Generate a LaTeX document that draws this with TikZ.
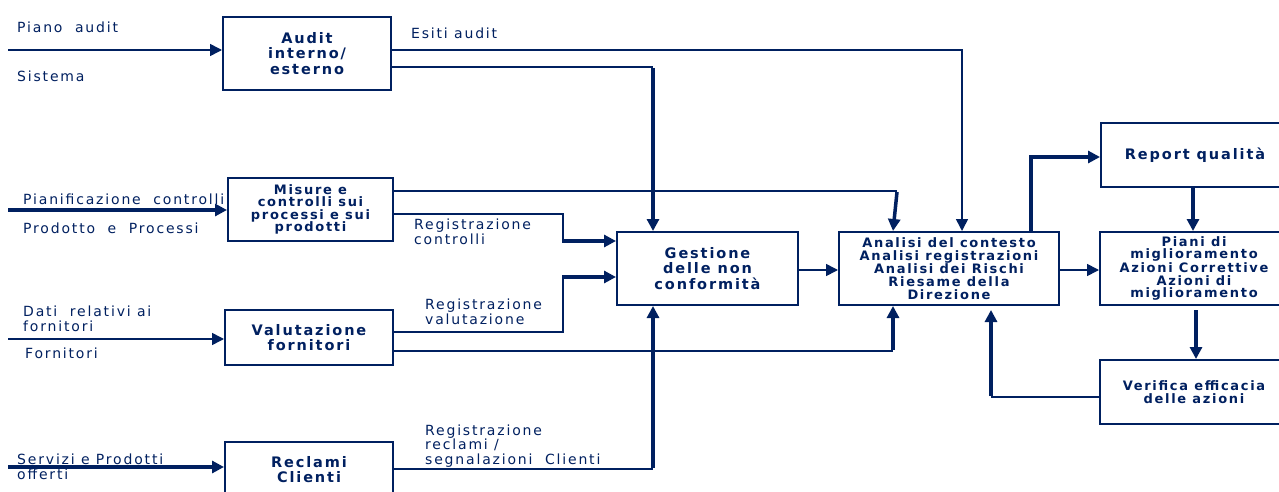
\documentclass[tikz,border=0pt]{standalone}
\usepackage{fontspec}
\setmainfont{DejaVu Sans}[LetterSpace=13]
\usetikzlibrary{arrows.meta}
\definecolor{navy}{RGB}{0,32,96}
\begin{document}
\begin{tikzpicture}[x=1pt,y=-1pt,
  box/.style={draw=navy, line width=2pt, fill=white, text=navy, align=center, inner sep=0pt,
    font=\bfseries\fontsize{14.5}{15.2}\selectfont},
  smallbox/.style={box, font=\bfseries\fontsize{13}{12.6}\selectfont},
  lbl/.style={text=navy, inner sep=0pt, align=left, font=\fontsize{14}{14.5}\selectfont},
  thinl/.style={draw=navy, line width=1.6pt},
  midl/.style={draw=navy, line width=2.4pt},
  thickl/.style={draw=navy, line width=3.5pt},
  tip/.style={-{Triangle[length=12pt,width=12pt]}},
]
\useasboundingbox[fill=white] (0,0) rectangle (1279,492);

% boxes
\node[box, minimum width=168pt, minimum height=73pt] (audit) at (307,53.5) {Audit\\interno/\\esterno};
\node[smallbox, minimum width=165pt, minimum height=63pt] (misure) at (310.5,209.5) {Misure e\\controlli sui\\processi e sui\\prodotti};
\node[box, minimum width=168pt, minimum height=55pt] (valut) at (309,337.5) {Valutazione\\fornitori};
\node[box, minimum width=168pt, minimum height=55pt] (reclami) at (309,469.5) {Reclami\\Clienti};
\node[box, minimum width=181pt, minimum height=73pt] (gestione) at (707.5,268.5) {Gestione\\delle non\\conformità};
\node[smallbox, minimum width=220pt, minimum height=73pt] (analisi) at (949,268.5) {Analisi del contesto\\Analisi registrazioni\\Analisi dei Rischi\\Riesame della\\Direzione};
\node[box, minimum width=188pt, minimum height=64pt] (report) at (1195,155) {Report qualità};
\node[smallbox, minimum width=188pt, minimum height=73pt] (piani) at (1194,268.5) {Piani di\\miglioramento\\Azioni Correttive\\Azioni di\\miglioramento};
\node[smallbox, minimum width=188pt, minimum height=64pt] (verifica) at (1194,392) {Verifica efficacia\\delle azioni};

% labels (anchor base = baseline of last line)
\node[lbl, anchor=base west] (l1) at (17,33) {Piano\ \ audit};
\node[lbl, anchor=base west] (l2) at (17,82) {Sistema};
\node[lbl, anchor=base west] (l3) at (411,39) {Esiti audit};
\node[lbl, anchor=base west] (l4) at (23,204) {Pianificazione\ \ controlli};
\node[lbl, anchor=base west] (l5) at (23,233) {Prodotto\ \ e\ \ Processi};
\node[lbl, anchor=base west] (l6) at (414,244) {Registrazione\\controlli};
\node[lbl, anchor=base west] (l7) at (23,331) {Dati\ \ relativi ai\\fornitori};
\node[lbl, anchor=base west] (l8) at (25,358) {Fornitori};
\node[lbl, anchor=base west] (l9) at (425,324) {Registrazione\\valutazione};
\node[lbl, anchor=base west] (l10) at (17,479) {Servizi e Prodotti\\offerti};
\node[lbl, anchor=base west] (l11) at (425,464) {Registrazione\\reclami /\\segnalazioni\ \ Clienti};

% coordinates
\coordinate (i1) at (8,50);
\coordinate (i2) at (8,210);
\coordinate (i3) at (8,339);
\coordinate (i4) at (8,467);
\coordinate (e1) at (962,50);
\coordinate (e2) at (653,67);
\coordinate (m1) at (897,191);
\coordinate (m1b) at (893,0);
\coordinate (m2) at (563,214);
\coordinate (m3) at (563,241);
\coordinate (v1) at (563,332);
\coordinate (v2) at (563,277);
\coordinate (v3) at (893,351);
\coordinate (r1) at (653,469);
\coordinate (g1) at (0,270);
\coordinate (p1) at (1031,157);
\coordinate (p2) at (1193,0);
\coordinate (p3) at (1196,310);
\coordinate (q1) at (991,397);
\coordinate (q2) at (991,310);

% inputs
\draw[thinl,tip] (i1) -- (i1 -| audit.west);
\draw[thickl,tip] (i2) -- (i2 -| misure.west);
\draw[thinl,tip] (i3) -- (i3 -| valut.west);
\draw[thickl,tip] (i4) -- (i4 -| reclami.west);

% audit outputs
\draw[thinl,tip] (audit.east |- e1) -- (e1) -- (e1 |- analisi.north);
\draw[thinl] (audit.east |- e2) -- (e2);
\draw[thickl,tip] ([yshift=-1pt]e2) -- (e2 |- gestione.north);

% misure outputs
\draw[thinl] (misure.east |- m1) -- (m1);
\draw[thickl,tip] ([yshift=-1pt]m1) -- (m1b |- analisi.north);
\draw[midl] (misure.east |- m2) -- (m2) -- (m3);
\draw[thickl,tip] ([xshift=-1pt]m3) -- (m3 -| gestione.west);

% valutazione outputs
\draw[midl] (valut.east |- v1) -- (v1) -- (v2);
\draw[thickl,tip] ([xshift=-1pt]v2) -- (v2 -| gestione.west);
\draw[thinl] (valut.east |- v3) -- (v3);
\draw[thickl,tip] ([yshift=1pt]v3) -- (v3 |- analisi.south);

% reclami output
\draw[thinl] (reclami.east |- r1) -- (r1);
\draw[thickl,tip] ([yshift=1pt]r1) -- (r1 |- gestione.south);

% main chain
\draw[thinl,tip] (gestione.east |- g1) -- (analisi.west |- g1);
\draw[thinl,tip] (analisi.east |- g1) -- (piani.west |- g1);
\draw[thickl,tip] (p1 |- analisi.north) -- (p1) -- (report.west |- p1);
\draw[thickl,tip] (p2 |- report.south) -- (p2 |- piani.north);
\draw[thickl,tip] (p3) -- (p3 |- verifica.north);
\draw[midl] (verifica.west |- q1) -- (q1);
\draw[thickl,tip] ([yshift=1pt]q1) -- (q2);
\end{tikzpicture}
\end{document}
